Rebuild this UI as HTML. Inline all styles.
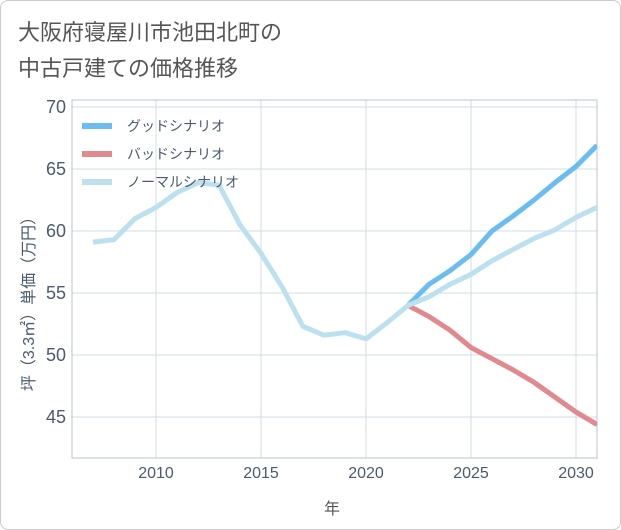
<!DOCTYPE html>
<html><head><meta charset="utf-8"><style>
body{margin:0;background:#fff;font-family:"Liberation Sans","Noto Sans CJK JP",sans-serif}
.card{position:absolute;left:0;top:0;width:619px;height:528px;border:1px solid #ccc;border-radius:8px;background:#fff}
</style></head><body>
<div class="card"></div>
<svg width="621" height="530" style="position:absolute;left:0;top:0">
<text x="18" y="40" font-size="22" fill="#555" font-family="Liberation Sans, Noto Sans CJK JP, sans-serif">大阪府寝屋川市池田北町の</text>
<text x="18" y="76" font-size="22" fill="#555" font-family="Liberation Sans, Noto Sans CJK JP, sans-serif">中古戸建ての価格推移</text>
<g id="grid"></g>
<rect x="72" y="100" width="525" height="358" fill="none" stroke="#b8c4d0" stroke-width="1"/>
<g id="series"></g>
<g id="legend"></g>
<text x="332" y="514" font-size="16" fill="#555" text-anchor="middle" font-family="Liberation Sans, Noto Sans CJK JP, sans-serif">年</text>
<text transform="translate(34,300) rotate(-90)" font-size="16" fill="#4a5a70" text-anchor="middle" font-family="Liberation Sans, Noto Sans CJK JP, sans-serif">坪（3.3㎡）単価（万円）</text>
</svg>
<script>
const years=[2007,2008,2009,2010,2011,2012,2013,2014,2015,2016,2017,2018,2019,2020,2021,2022,2023,2024,2025,2026,2027,2028,2029,2030,2031];
const normal=[59.1,59.3,61.0,61.9,63.1,63.9,63.7,60.5,58.2,55.5,52.3,51.6,51.8,51.3,52.6,54.0,54.7,55.7,56.5,57.6,58.5,59.4,60.1,61.1,61.9];
const futureYears=[2022,2023,2024,2025,2026,2027,2028,2029,2030,2031];
const good=[54.0,55.7,56.8,58.1,60.0,61.2,62.5,63.9,65.2,66.9];
const bad=[54.0,53.1,52.0,50.6,49.7,48.8,47.8,46.6,45.4,44.4];
const xTicks=[2010,2015,2020,2025,2030];
const yTicks=[45,50,55,60,65,70];
const legendLabels=["グッドシナリオ","バッドシナリオ","ノーマルシナリオ"];
const colors=["#6bbdf0","#e0898f","#bde0ef"];
const NS="http://www.w3.org/2000/svg";
const X=y=>156+(y-2010)*21, Y=v=>107+(70-v)*12.4;
function mk(t,a,p){const e=document.createElementNS(NS,t);for(const k in a)e.setAttribute(k,a[k]);p.appendChild(e);return e;}
const grid=document.getElementById('grid');
xTicks.forEach(t=>{const l=mk('line',{x1:X(t),x2:X(t),y1:100,y2:458,stroke:'#d0dce6'},grid);


const tx=mk('text',{x:X(t),y:478,'font-size':16,fill:'#4a5a70','text-anchor':'middle'},grid);tx.textContent=t;

});
yTicks.forEach(t=>{const l=mk('line',{x1:72,x2:597,y1:Y(t),y2:Y(t),stroke:'#d0dce6'},grid);


const tx=mk('text',{x:66,y:Y(t)+6,'font-size':18,fill:'#4a5a70','text-anchor':'end'},grid);tx.textContent=t;

});
const sg=document.getElementById('series');
const cp=mk('clipPath',{id:'cp'},sg);mk('rect',{x:72,y:100,width:525,height:358},cp);
function line(xs,vs,c,name){const p=mk('polyline',{points:xs.map((y,i)=>X(y)+','+Y(vs[i])).join(' '),fill:'none',stroke:c,'stroke-width':5,'stroke-linejoin':'round','clip-path':'url(#cp)'},sg);

}
line(futureYears,bad,colors[1],'bad-scenario-line');
line(futureYears,good,colors[0],'good-scenario-line');
line(years,normal,colors[2],'normal-scenario-line');
const lg=document.getElementById('legend');
legendLabels.forEach((s,i)=>{const y=126+i*28;
const r=mk('rect',{x:82,y:y-3,width:30,height:6,fill:colors[i]},lg);


const t=mk('text',{x:127,y:y+5,'font-size':14,fill:'#4a5a70'},lg);t.textContent=s;

});
</script>
</body></html>
